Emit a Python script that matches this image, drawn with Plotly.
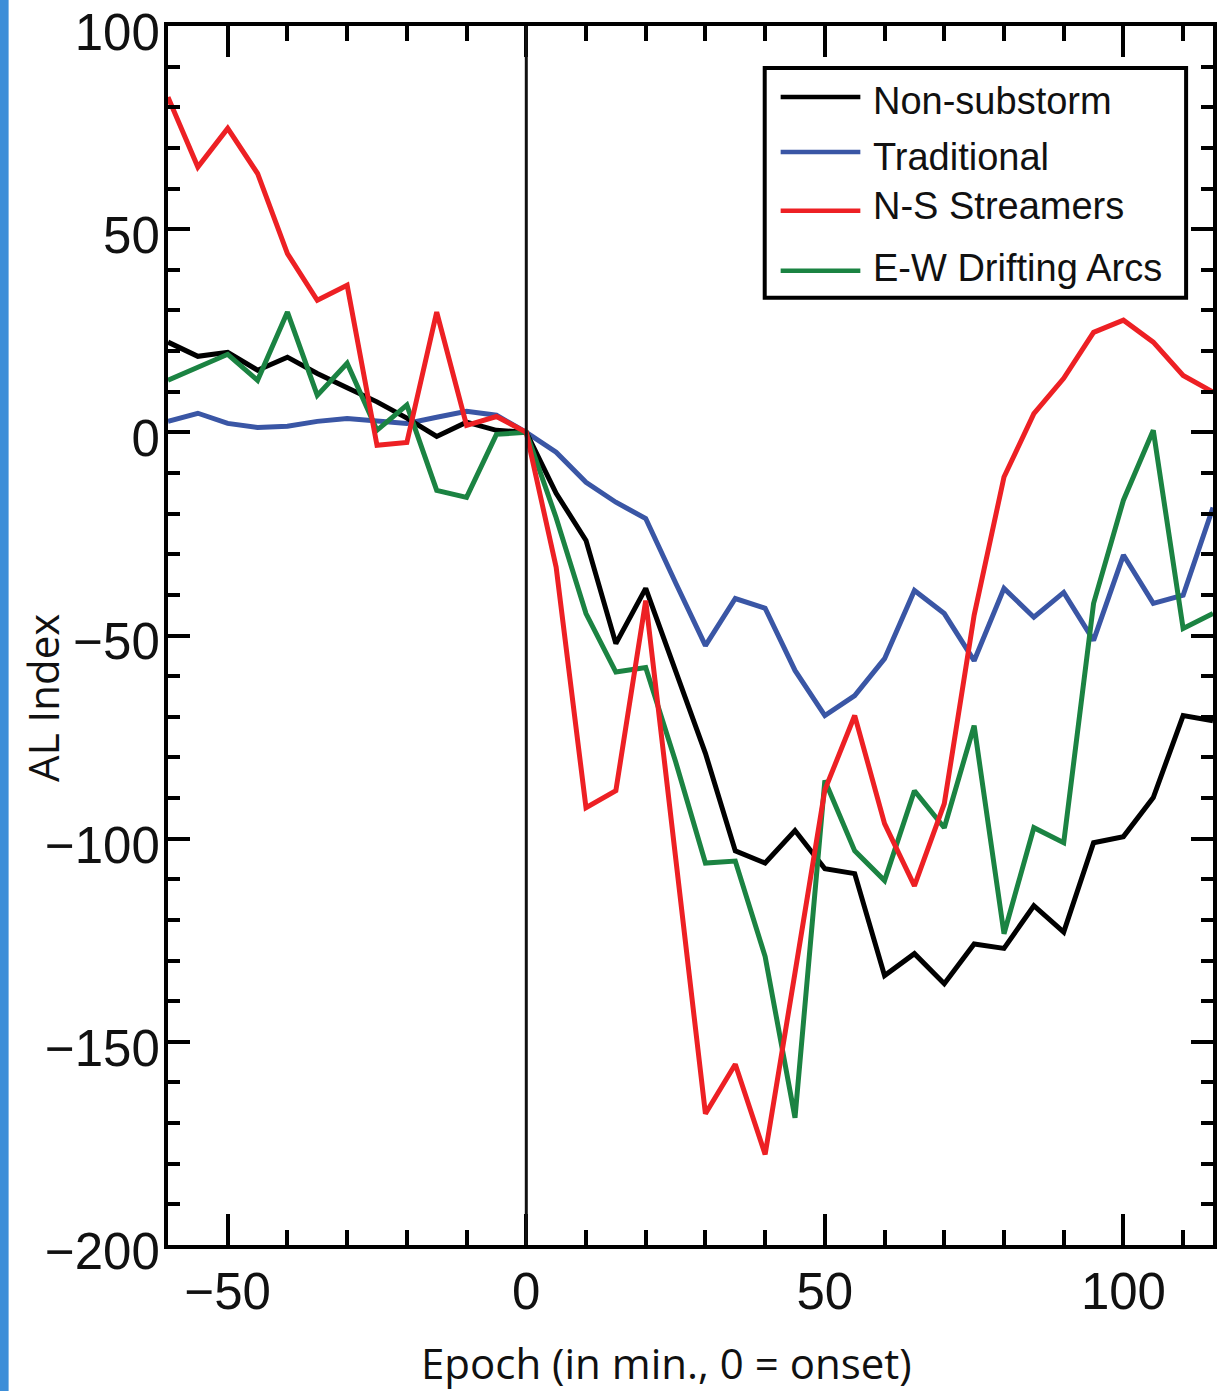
import plotly.graph_objects as go

# Epoch grid (minutes relative to onset)
epoch = list(range(-60, 120, 5))

series_names = ["Non-substorm", "Traditional", "N-S Streamers", "E-W Drifting Arcs"]
series_colors = ["#000000", "#3a56a5", "#ed2024", "#1b8342"]

non_substorm = [22.2, 18.7, 19.7, 15.3, 18.5, 14.5, 11.0, 7.5, 3.5, -1.0, 2.5, 0.5, 0.0,
                -15.0, -26.6, -52.0, -38.4, -59.0, -79.0, -103.0, -106.0, -98.0, -107.4,
                -108.6, -133.7, -128.3, -135.7, -125.9, -127.0, -116.5, -123.0, -101.0,
                -99.5, -89.9, -69.7, -71.0]
traditional = [2.7, 4.7, 2.2, 1.2, 1.5, 2.7, 3.4, 2.7, 2.2, 3.7, 5.2, 4.2, 0.0,
               -4.9, -12.3, -17.2, -21.2, -37.0, -52.5, -40.9, -43.3, -58.6, -69.7,
               -64.8, -55.7, -38.9, -44.6, -56.2, -38.4, -45.5, -39.4, -51.2, -30.2,
               -42.1, -40.1, -18.5]
ns_streamers = [82.5, 65.3, 74.8, 63.7, 44.0, 32.5, 36.2, -3.2, -2.5, 29.6, 1.7, 3.9, 0.0,
                -33.2, -92.4, -88.2, -41.4, -104.5, -167.7, -155.5, -177.7, -133.0, -88.0,
                -69.7, -96.3, -111.6, -91.4, -45.0, -11.0, 4.6, 13.3, 24.6, 27.6, 22.2,
                14.0, 9.9]
ew_arcs = [12.8, 16.0, 19.2, 12.8, 29.6, 9.1, 17.0, 0.5, 6.7, -14.3, -16.0, -0.5, 0.0,
           -21.0, -44.6, -59.0, -57.9, -81.0, -106.0, -105.5, -129.0, -168.7, -85.7,
           -103.0, -110.3, -88.2, -97.3, -72.2, -123.4, -97.3, -101.0, -42.1, -16.7,
           0.5, -48.3, -44.6]

x_tickvals = [-50, 0, 50, 100]
y_tickvals = [-200, -150, -100, -50, 0, 50, 100]

values = [non_substorm, traditional, ns_streamers, ew_arcs]
draw_order = [1, 0, 3, 2]

# figure geometry in pixels
W, H = 1221, 1391
ML, MR, MT, MB = 168, 4, 25, 146
PW, PH = W - ML - MR, H - MT - MB


def px_x(px):
    return (px - ML) / PW


def px_y(py):
    return 1 - (py - MT) / PH


fig = go.Figure()
for i in draw_order:
    fig.add_trace(go.Scatter(
        x=epoch, y=values[i], mode="lines", name=series_names[i],
        line=dict(color=series_colors[i], width=5), showlegend=False,
    ))

tick_font = dict(family="Liberation Sans, Arial, sans-serif", size=51, color="#111111")
title_font = dict(family="Open Sans, sans-serif", size=42, color="#111111")

fig.update_xaxes(
    range=[-60, 115], tickvals=x_tickvals, ticks="inside", ticklen=31, tickwidth=4,
    tickcolor="#000000", showline=True, linewidth=4, linecolor="#000000",
    mirror="allticks", showgrid=False, zeroline=False, tickfont=tick_font,
    ticklabelstandoff=-1, ticklabeloverflow="allow",
    minor=dict(ticks="inside", ticklen=15, tickwidth=4, tickcolor="#000000",
               dtick=10, tick0=0, showgrid=False),
)
fig.update_yaxes(
    range=[-200, 100.001], tickvals=y_tickvals, ticks="inside", ticklen=22, tickwidth=4,
    tickcolor="#000000", showline=True, linewidth=4, linecolor="#000000",
    mirror="allticks", showgrid=False, zeroline=False, tickfont=tick_font,
    ticklabelstandoff=-6, ticklabelshift=6, ticklabeloverflow="allow",
    minor=dict(ticks="inside", ticklen=12, tickwidth=4, tickcolor="#000000",
               dtick=10, tick0=0, showgrid=False),
)

shapes = []
annotations = []

# onset marker
shapes.append(dict(type="line", xref="x", yref="paper", x0=0, x1=0, y0=0, y1=1,
                   line=dict(color="#111111", width=3), layer="above"))

# legend box
shapes.append(dict(type="rect", xref="paper", yref="paper",
                   x0=px_x(767), x1=px_x(1190), y0=px_y(297), y1=px_y(67),
                   line=dict(color="#000000", width=4), fillcolor="rgba(255,255,255,0)",
                   layer="above"))
legend_line_y = [96, 151, 210, 270]
legend_text_y = [100, 156, 205, 267]
for i in range(4):
    shapes.append(dict(type="line", xref="paper", yref="paper",
                       x0=px_x(783), x1=px_x(863),
                       y0=px_y(legend_line_y[i]), y1=px_y(legend_line_y[i]),
                       line=dict(color=series_colors[i], width=4.5), layer="above"))
    annotations.append(dict(text=series_names[i], xref="paper", yref="paper",
                            x=px_x(874), y=px_y(legend_text_y[i]),
                            xanchor="left", yanchor="middle", showarrow=False,
                            font=dict(family="Liberation Sans, Arial, sans-serif",
                                      size=38, color="#111111")))

# blue page edge strip
shapes.append(dict(type="rect", xref="paper", yref="paper",
                   x0=px_x(-2), x1=px_x(8), y0=-0.2, y1=1.1,
                   line=dict(width=0), fillcolor="#3d8ed8", layer="above"))

# axis titles
annotations.append(dict(text="Epoch (in min., 0 = onset)", xref="paper", yref="paper",
                        x=px_x(668), y=px_y(1363), xanchor="center", yanchor="middle",
                        showarrow=False, font=title_font))
annotations.append(dict(text="AL Index", xref="paper", yref="paper",
                        x=px_x(42), y=px_y(697), xanchor="center", yanchor="middle",
                        textangle=-90, showarrow=False, font=title_font))

fig.update_layout(
    width=W, height=H,
    margin=dict(l=ML, r=MR, t=MT, b=MB, pad=0),
    paper_bgcolor="white", plot_bgcolor="white",
    shapes=shapes, annotations=annotations, showlegend=False,
)

fig.write_html("out.html")
